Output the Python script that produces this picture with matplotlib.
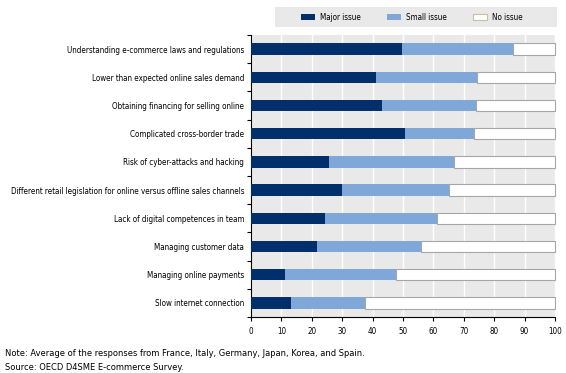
import matplotlib.pyplot as plt
import numpy as np
from matplotlib import font_manager
from matplotlib.font_manager import FontProperties

# look for a condensed sans font (the reference uses Arial Narrow)
cand = None
for key in ['LiberationSansNarrow-Regular', 'DejaVuSansCondensed.ttf', 'Condensed', 'Narrow']:
    for f in font_manager.fontManager.ttflist:
        if key in f.fname and 'Bold' not in f.fname and 'Oblique' not in f.fname and 'Italic' not in f.fname:
            cand = f.fname
            break
    if cand:
        break

if cand:
    fp = FontProperties(fname=cand)
    plt.rcParams['font.family'] = [fp.get_name(), 'DejaVu Sans']
    plt.rcParams['font.stretch'] = 'condensed'
    fs = 5.8
    fs_note = 6.65
else:
    plt.rcParams['font.family'] = ['Liberation Sans', 'DejaVu Sans']
    fs = 5.8
    fs_note = 6.2

categories = [
    "Understanding e-commerce laws and regulations",
    "Lower than expected online sales demand",
    "Obtaining financing for selling online",
    "Complicated cross-border trade",
    "Risk of cyber-attacks and hacking",
    "Different retail legislation for online versus offline sales channels",
    "Lack of digital competences in team",
    "Managing customer data",
    "Managing online payments",
    "Slow internet connection",
]
major = [49.8, 41.1, 43.1, 50.7, 25.8, 29.8, 24.2, 21.7, 11.3, 13.2]
major_plus_small = [86.3, 74.4, 74.0, 73.5, 66.9, 65.2, 61.1, 56.0, 47.7, 37.6]

major = np.array(major)
small = np.array(major_plus_small) - major
no_issue = 100 - major - small

fig = plt.figure(figsize=(5.66, 3.73), dpi=100)
ax = fig.add_axes([251/566, 1 - 317/373, 304/566, 282/373])
ax.set_facecolor('#e9e9e9')

y = np.arange(len(categories))[::-1]
h = 0.4
ax.barh(y, major, height=h, color='#002F6C', label='Major issue', zorder=3)
ax.barh(y, small, left=major, height=h, color='#7FA8D9', label='Small issue', zorder=3)
bars = ax.barh(y, no_issue, left=major + small, height=h, color='white',
               edgecolor='#a6a6a6', linewidth=0.8, label='No issue', zorder=3)
for b in bars:
    b.set_clip_on(False)

ax.set_xlim(0, 100)
ax.set_ylim(-0.5, len(categories) - 0.5)
ax.set_xticks(np.arange(0, 101, 10))
ax.xaxis.grid(True, color='white', linewidth=1, zorder=0)
ax.set_axisbelow(True)
ax.set_yticks(y)
ax.set_yticklabels(categories, fontsize=fs)
ax.set_yticks(np.arange(-0.5, len(categories), 1), minor=True)
ax.tick_params(axis='y', which='major', length=0, pad=5)
ax.tick_params(axis='y', which='minor', length=3, width=0.8)
ax.tick_params(axis='x', labelsize=fs, length=3, width=0.8, pad=4)
for s in ['top', 'right']:
    ax.spines[s].set_visible(False)
for s in ['left', 'bottom']:
    ax.spines[s].set_color('black')
    ax.spines[s].set_linewidth(0.8)

# legend band
leg_ax = fig.add_axes([275/566, 1 - 27/373, 282/566, 20/373])
leg_ax.set_facecolor('#e9e9e9')
leg_ax.set_xticks([]); leg_ax.set_yticks([])
for s in leg_ax.spines.values():
    s.set_visible(False)
handles, labels = ax.get_legend_handles_labels()
leg = leg_ax.legend(handles, labels, loc='center', bbox_to_anchor=(0.485, 0.5), ncol=3,
                    frameon=False, fontsize=fs, handlelength=1.8, handleheight=0.8,
                    columnspacing=3.2, handletextpad=0.6)
leg.legend_handles[2].set_edgecolor('#c8bf9e')

fig.text(5/566, 1 - 353/373, "Note: Average of the responses from France, Italy, Germany, Japan, Korea, and Spain.",
         fontsize=fs_note, va='center')
fig.text(5/566, 1 - 367/373, "Source: OECD D4SME E-commerce Survey.", fontsize=fs_note, va='center')

fig.savefig('out.png', dpi=100)
